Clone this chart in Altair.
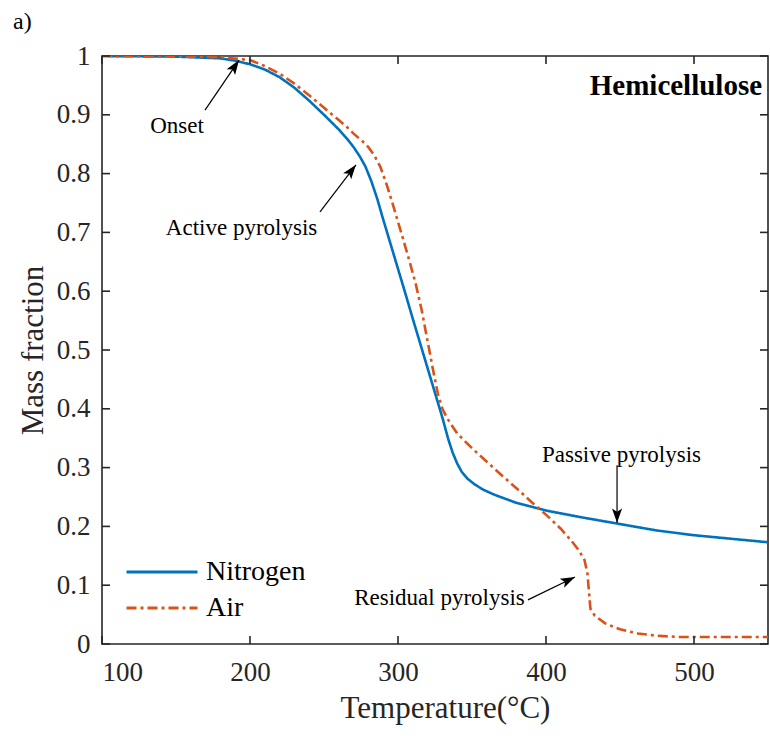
import math
import altair as alt
import pandas as pd

# ---------------- data ----------------
SERIES = ["Nitrogen", "Air"]
COLORS = ["#0072BD", "#D95319"]
DASHES = [[1, 0], [10, 4, 3, 4]]

T_N2 = [100, 150, 180, 190, 200, 210, 220, 230, 240, 250, 260, 266, 270, 274,
        278, 282, 286, 290, 295, 300, 305, 310, 315, 320, 325, 330, 334, 337,
        340, 343, 347, 352, 358, 365, 380, 400, 425, 450, 475, 500, 525, 550]
M_N2 = [1.0, 0.999, 0.996, 0.992, 0.986, 0.977, 0.964, 0.946, 0.924, 0.900,
        0.875, 0.858, 0.845, 0.830, 0.812, 0.787, 0.757, 0.722, 0.680, 0.638,
        0.596, 0.553, 0.511, 0.469, 0.427, 0.385, 0.348, 0.325, 0.307, 0.293,
        0.281, 0.271, 0.262, 0.254, 0.240, 0.227, 0.215, 0.204, 0.193, 0.185,
        0.179, 0.173]

T_AIR = [100, 150, 180, 200, 210, 220, 230, 241, 250, 260, 266, 270, 276, 280,
         284, 288, 292, 296, 300, 304, 308, 312, 316, 320, 324, 327, 330, 333,
         336, 340, 350, 360, 370, 380, 390, 400, 410, 417, 422, 426, 428, 429,
         430, 433, 440, 450, 462, 475, 490, 520, 550]
M_AIR = [1.0, 0.999, 0.998, 0.993, 0.983, 0.970, 0.953, 0.931, 0.912, 0.891,
         0.878, 0.868, 0.855, 0.845, 0.831, 0.812, 0.784, 0.752, 0.718, 0.684,
         0.649, 0.612, 0.568, 0.515, 0.462, 0.425, 0.400, 0.385, 0.373, 0.358,
         0.333, 0.310, 0.287, 0.265, 0.242, 0.220, 0.196, 0.176, 0.160, 0.143,
         0.120, 0.090, 0.060, 0.048, 0.035, 0.025, 0.018, 0.014, 0.012, 0.012,
         0.012]

X_TICKS = [100, 200, 300, 400, 500]
Y_TICKS = [0, 0.1, 0.2, 0.3, 0.4, 0.5, 0.6, 0.7, 0.8, 0.9, 1.0]

ANN_TEXT = ["Onset", "Active pyrolysis", "Passive pyrolysis", "Residual pyrolysis"]
ANN_TX = [150.7, 194.3, 451.0, 328.0]
ANN_TY = [0.869, 0.696, 0.310, 0.066]
ARR_X0 = [169.6, 247.3, 448.0, 387.8]
ARR_Y0 = [0.908, 0.735, 0.304, 0.075]
ARR_X1 = [192.6, 271.6, 448.0, 419.6]
ARR_Y1 = [0.993, 0.815, 0.206, 0.114]

PANEL_TITLE = "Hemicellulose"
PANEL_TX = [546.0]
PANEL_TY = [0.934]

# ---------------- layout ----------------
W, H = 666, 588
XDOM = [100, 550]
YDOM = [0, 1]
FONT = "Liberation Serif"
AXC = "#262626"

xs = alt.Scale(domain=XDOM, nice=False, zero=False)
ys = alt.Scale(domain=YDOM, nice=False, zero=False)

rows = []
for s, ts, ms in [("Nitrogen", T_N2, M_N2), ("Air", T_AIR, M_AIR)]:
    for i, (t, m) in enumerate(zip(ts, ms)):
        rows.append({"series": s, "T": t, "M": m, "order": i})
df = pd.DataFrame(rows)

LEG = dict(title=None, orient="none", legendX=23, legendY=501, labelFont=FONT,
           labelFontSize=28, labelColor="black", symbolType="stroke",
           symbolSize=5041, symbolStrokeWidth=3, labelOffset=7, rowPadding=6,
           clipHeight=30)

lines = alt.Chart(df).mark_line(strokeWidth=2.6, clip=True).encode(
    x=alt.X("T:Q", scale=xs,
            axis=alt.Axis(values=X_TICKS, title="Temperature(\u00b0C)",
                          titleX=343, titleY=73, titleAlign="center",
                          titleBaseline="alphabetic", labelPadding=15,
                          format="d")),
    y=alt.Y("M:Q", scale=ys,
            axis=alt.Axis(values=Y_TICKS, title="Mass fraction",
                          titleX=-60, titleY=H / 2, titleAlign="center",
                          titleBaseline="alphabetic", titleAngle=270,
                          labelPadding=12, format="~g")),
    order="order:Q",
    color=alt.Color("series:N", scale=alt.Scale(domain=SERIES, range=COLORS),
                    legend=alt.Legend(**LEG)),
    strokeDash=alt.StrokeDash("series:N",
                              scale=alt.Scale(domain=SERIES, range=DASHES),
                              legend=alt.Legend(**LEG)),
)

# inward tick marks on all four sides
xt = pd.DataFrame({"v": X_TICKS})
yt = pd.DataFrame({"v": Y_TICKS})
TL = 8
tick_style = dict(color=AXC, strokeWidth=1.6)
xb = alt.Chart(xt).mark_rule(**tick_style).encode(
    x=alt.X("v:Q", scale=xs), y=alt.value(H), y2=alt.value(H - TL))
xtop = alt.Chart(xt).mark_rule(**tick_style).encode(
    x=alt.X("v:Q", scale=xs), y=alt.value(0), y2=alt.value(TL))
yl = alt.Chart(yt).mark_rule(**tick_style).encode(
    y=alt.Y("v:Q", scale=ys), x=alt.value(0), x2=alt.value(TL))
yr = alt.Chart(yt).mark_rule(**tick_style).encode(
    y=alt.Y("v:Q", scale=ys), x=alt.value(W), x2=alt.value(W - TL))

# annotations
ann = pd.DataFrame({"text": ANN_TEXT, "x": ANN_TX, "y": ANN_TY})
ann_text = alt.Chart(ann).mark_text(font=FONT, fontSize=23, color="black",
                                    align="center", baseline="alphabetic").encode(
    x=alt.X("x:Q", scale=xs), y=alt.Y("y:Q", scale=ys), text="text:N")

angles = []
for x0, y0, x1, y1 in zip(ARR_X0, ARR_Y0, ARR_X1, ARR_Y1):
    dx = (x1 - x0) * W / (XDOM[1] - XDOM[0])
    dy = -(y1 - y0) * H / (YDOM[1] - YDOM[0])
    angles.append(math.degrees(math.atan2(dx, -dy)) % 360)
arr = pd.DataFrame({"x0": ARR_X0, "y0": ARR_Y0, "x1": ARR_X1, "y1": ARR_Y1,
                    "ang": angles})
arr_lines = alt.Chart(arr).mark_rule(color="black", strokeWidth=1.2).encode(
    x=alt.X("x0:Q", scale=xs), y=alt.Y("y0:Q", scale=ys),
    x2="x1:Q", y2="y1:Q")
HEAD = "M0,0 L-0.7,2 L0,1.55 L0.7,2 Z"
arr_heads = alt.Chart(arr).mark_point(shape=HEAD, filled=True, color="black",
                                      size=210, opacity=1, strokeWidth=0).encode(
    x=alt.X("x1:Q", scale=xs), y=alt.Y("y1:Q", scale=ys),
    angle=alt.Angle("ang:Q", scale=None))

panel = alt.Chart(pd.DataFrame({"t": [PANEL_TITLE], "x": PANEL_TX, "y": PANEL_TY})).mark_text(
    font=FONT, fontSize=29, fontWeight="bold", color="black", align="right",
    baseline="alphabetic").encode(
    x=alt.X("x:Q", scale=xs), y=alt.Y("y:Q", scale=ys), text="t:N")

chart = alt.layer(lines, xb, xtop, yl, yr, arr_lines, arr_heads, ann_text, panel).properties(
    width=W, height=H,
    background="white",
    autosize=alt.AutoSizeParams(type="none"),
    padding={"left": 102, "top": 56, "right": 2, "bottom": 96},
    title=alt.TitleParams("a)", anchor="start", frame="group", font=FONT,
                          fontSize=24, fontWeight="normal", color="black",
                          dx=-89, dy=23, offset=12, baseline="alphabetic"),
).configure_view(stroke=AXC, strokeWidth=1.6).configure_axis(
    grid=False, ticks=False, domain=False, labelFont=FONT, labelFontSize=27,
    labelColor=AXC, titleFont=FONT, titleFontSize=31, titleFontWeight="normal",
    titleColor=AXC
)

chart.save("out.html", embed_options={"renderer": "svg", "actions": False})
